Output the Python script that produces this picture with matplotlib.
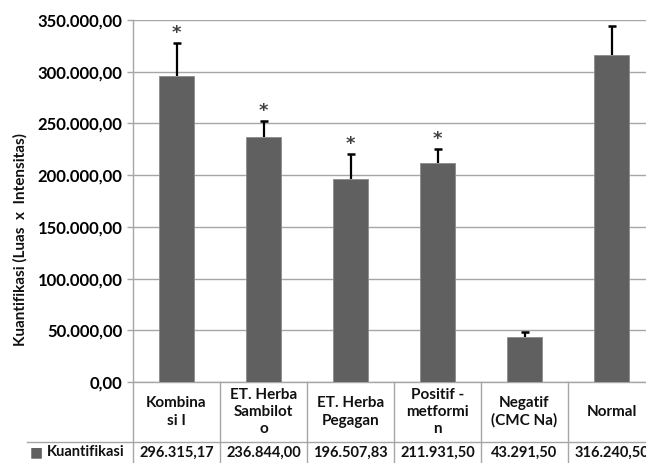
import numpy as np
import matplotlib
matplotlib.use('Agg')
import matplotlib.pyplot as plt
import matplotlib.transforms as mtransforms

# data
categories = ['Kombina\nsi I', 'ET. Herba\nSambilot\no', 'ET. Herba\nPegagan',
              'Positif -\nmetformi\nn', 'Negatif\n(CMC Na)', 'Normal']
values = [296315.17, 236844.00, 196507.83, 211931.50, 43291.50, 316240.50]
errors = [31500, 15500, 24000, 13600, 5000, 28000]
signif = [True, True, True, True, False, False]
series_name = 'Kuantifikasi'

bar_color = '#606060'
grid_color = '#a6a6a6'


def fmt_id(v):
    s = f"{v:,.2f}"
    return s.replace(',', 'X').replace('.', ',').replace('X', '.')


plt.rcParams['font.family'] = ['Lato', 'DejaVu Sans']
plt.rcParams['font.weight'] = 'bold'

W, H = 646, 463
fig = plt.figure(figsize=(W / 100, H / 100), dpi=100)
# plot area in pixels: x 133..655 (runs past the edge), y 20..382
ax = fig.add_axes([133 / W, (H - 382) / H, 522 / W, 362 / H])

x = np.arange(len(values))
tops = np.array(values) + np.array(errors)
ax.bar(x, values, width=0.4, color=bar_color, edgecolor='#8c8c8c', linewidth=0.6, zorder=3)
# upper error bars only
ax.vlines(x, values, tops, color='black', linewidth=1.6, zorder=4)
ax.plot(x, tops, linestyle='none', marker='_', markersize=6, markeredgewidth=1.8,
        color='black', zorder=4)

for i in range(len(values)):
    if signif[i]:
        ax.annotate('*', (x[i], tops[i]), xytext=(0, 3.4),
                    textcoords='offset points', ha='center', va='baseline',
                    fontsize=13, color='#404040', family='DejaVu Sans')

ax.set_xlim(-0.5, len(values) - 0.5)
ax.set_ylim(0, 350000)
ax.set_yticks(np.arange(0, 350001, 50000))
ax.set_yticklabels([fmt_id(t) for t in ax.get_yticks()], fontsize=12, fontweight='bold')
ax.set_xticks([])
ax.yaxis.grid(True, color=grid_color, linewidth=1.0, zorder=0)
ax.tick_params(axis='y', length=4.5, color=grid_color, width=1.0, pad=3)
for s in ['top', 'right', 'bottom']:
    ax.spines[s].set_visible(False)
ax.spines['left'].set_color(grid_color)
ax.spines['left'].set_linewidth(1.0)

# data table under the plot
trans = mtransforms.blended_transform_factory(ax.transData, ax.transAxes)
px = 1 / 362
row1_bot = -60 * px
row2_bot = -81 * px
for b in np.arange(-0.5, len(values) + 0.5, 1.0):
    ax.plot([b, b], [0, row2_bot], transform=trans, color=grid_color, lw=1.0, clip_on=False)
ax.plot([-0.5, len(values) - 0.5], [0, 0], transform=trans, color=grid_color, lw=1.0, clip_on=False)
left_x = -0.5 - 106 / 87
ax.plot([left_x, len(values) - 0.5], [row1_bot, row1_bot], transform=trans,
        color=grid_color, lw=1.0, clip_on=False)

for i, c in enumerate(categories):
    ax.text(x[i], row1_bot / 2, c, transform=trans, ha='center', va='center',
            fontsize=11, fontweight='bold', linespacing=1.3, color='#111111')
    ax.text(x[i], (row1_bot + row2_bot) / 2, fmt_id(values[i]), transform=trans,
            ha='center', va='center', fontsize=10.5, fontweight='bold', color='#111111')

ax.text(-0.5 - 8 / 87, (row1_bot + row2_bot) / 2, series_name, transform=trans,
        ha='right', va='center', fontsize=10.5, fontweight='bold', color='#111111')
ax.text(-0.5 - 90 / 87, (row1_bot + row2_bot) / 2, '■', transform=trans,
        ha='right', va='center', fontsize=10, color=bar_color, family='DejaVu Sans')

fig.text(20 / W, 1 - 240 / H, 'Kuantifikasi (Luas  x  Intensitas)', rotation=90,
         ha='center', va='center', fontsize=11, fontweight='bold', color='#111111')

fig.savefig('out.png', dpi=100)
